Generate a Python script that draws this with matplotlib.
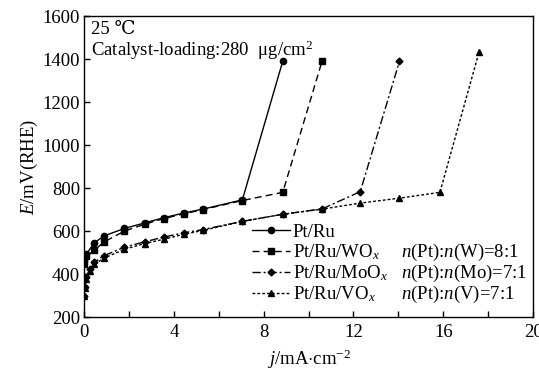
import matplotlib
matplotlib.use("Agg")
import matplotlib.pyplot as plt
from matplotlib.ticker import MultipleLocator
from matplotlib.lines import Line2D

plt.rcParams['font.family'] = ['Liberation Serif', 'DejaVu Serif']
plt.rcParams['mathtext.fontset'] = 'custom'
plt.rcParams['mathtext.rm'] = 'Liberation Serif'
plt.rcParams['mathtext.it'] = 'Liberation Serif:italic'

# Data
ptru_j = [0, 0.1, 0.45, 0.9, 1.8, 2.7, 3.55, 4.45, 5.3, 7.05, 8.85]
ptru_E = [460, 492, 545, 578, 612, 638, 662, 684, 702, 745, 1390]

wo_j = [0, 0.1, 0.45, 0.9, 1.8, 2.7, 3.55, 4.45, 5.3, 7.05, 8.85, 10.6]
wo_E = [445, 482, 510, 550, 600, 632, 658, 680, 700, 742, 780, 1390]

mo_j = [0, 0.02, 0.1, 0.25, 0.45, 0.9, 1.8, 2.7, 3.55, 4.45, 5.3, 7.05, 8.85, 10.6, 12.3, 14.05]
mo_E = [300, 340, 385, 425, 455, 486, 525, 550, 572, 592, 607, 645, 678, 703, 783, 1390]

vo_j = [0, 0.02, 0.1, 0.25, 0.45, 0.9, 1.8, 2.7, 3.55, 4.45, 5.3, 7.05, 8.85, 10.6, 12.3, 14.05, 15.85, 17.6]
vo_E = [300, 335, 375, 415, 445, 475, 515, 542, 562, 585, 603, 645, 678, 702, 730, 753, 780, 1435]

labels = ["Pt/Ru", "Pt/Ru/WO$_x$", "Pt/Ru/MoO$_x$", "Pt/Ru/VO$_x$"]
ratios = ["", "$n$(Pt):$n$(W)=8:1", "$n$(Pt):$n$(Mo)=7:1", "$n$(Pt):$n$(V)=7:1"]

FS = 13.5
fig = plt.figure(figsize=(5.39, 3.73), dpi=100)
ax = fig.add_axes([0.156, 0.150, 0.833, 0.807])

k = dict(color='black', lw=1.0)
ax.plot(ptru_j, ptru_E, linestyle='-', marker='o', ms=4.5, **k)
ax.plot(wo_j, wo_E, linestyle=(0, (5, 3)), marker='s', ms=4.5, **k)
ax.plot(mo_j, mo_E, linestyle=(0, (6, 2, 1.5, 2)), marker='D', ms=3.5, **k)
ax.plot(vo_j, vo_E, linestyle=(0, (2, 1.5)), marker='^', ms=4.5, **k)

ax.set_xlim(0, 20)
ax.set_ylim(200, 1600)
ax.xaxis.set_major_locator(MultipleLocator(4))
ax.xaxis.set_minor_locator(MultipleLocator(2))
ax.yaxis.set_major_locator(MultipleLocator(200))
ax.tick_params(which='both', direction='in', length=4, width=1, labelsize=FS, colors='black')
ax.tick_params(axis='x', pad=5)
ax.tick_params(axis='y', pad=3)
for s in ax.spines.values():
    s.set_linewidth(1.0)

ax.set_xlabel("$j$/mA$\\cdot$cm$^{-2}$", fontsize=FS, labelpad=5)
ax.set_ylabel("$E$/mV(RHE)", fontsize=FS, labelpad=2)

ax.text(0.015, 0.985, "25 ℃", transform=ax.transAxes, fontsize=FS, va='top', ha='left')
ax.text(0.015, 0.925, "Catalyst-loading:280  μg/cm$^2$", transform=ax.transAxes, fontsize=FS, va='top', ha='left')

handles = [
    Line2D([], [], color='black', lw=1, linestyle='-', marker='o', ms=4.5),
    Line2D([], [], color='black', lw=1, linestyle=(0, (5, 3)), marker='s', ms=4.5),
    Line2D([], [], color='black', lw=1, linestyle=(0, (6, 2, 1.5, 2)), marker='D', ms=3.5),
    Line2D([], [], color='black', lw=1, linestyle=(0, (2, 1.5)), marker='^', ms=4.5),
]
leg = ax.legend(handles, labels, loc='upper left', bbox_to_anchor=(0.375, 0.31),
                frameon=False, fontsize=FS, handlelength=2.0, handletextpad=0.15,
                labelspacing=0.08, borderaxespad=0, borderpad=0)

fig.canvas.draw()
renderer = fig.canvas.get_renderer()
texts = leg.get_texts()
inv = ax.transAxes.inverted()
for t, r in zip(texts, ratios):
    if not r:
        continue
    bb = t.get_window_extent(renderer)
    y = inv.transform(((bb.x0 + bb.x1) / 2, (bb.y0 + bb.y1) / 2))[1]
    ax.text(0.705, y, r, transform=ax.transAxes, fontsize=FS, va='center', ha='left')

fig.savefig("out.png", dpi=100)
